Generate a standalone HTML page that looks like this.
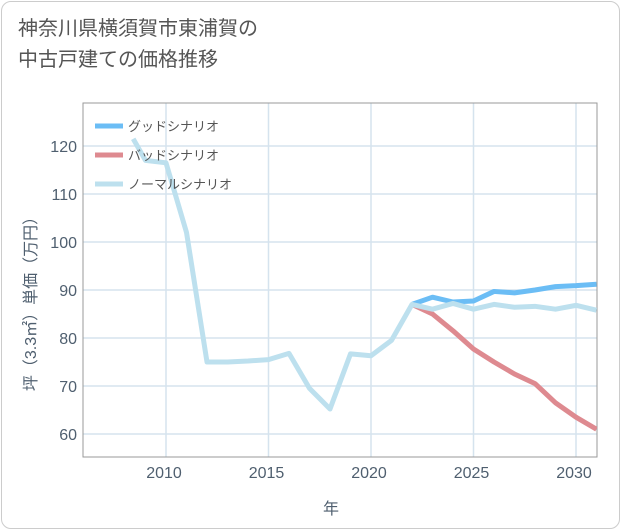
<!DOCTYPE html>
<html><head><meta charset="utf-8"><style>
body{margin:0;background:#fff;font-family:"Liberation Sans","Noto Sans CJK JP",sans-serif;}
#card{position:absolute;left:1px;top:1px;width:617px;height:526px;border:1px solid #ccc;border-radius:10px;background:#fff;}
#title{position:absolute;left:18px;top:14px;font-size:20px;line-height:31px;color:#555;}
</style></head><body>
<div id="card"></div>
<div id="title">神奈川県横須賀市東浦賀の<br>中古戸建ての価格推移</div>
<svg id="chart" width="621" height="530" style="position:absolute;left:0;top:0"></svg>
<script>
const normalYears=[2008.4,2009,2010,2011,2012,2013,2014,2015,2016,2017,2018,2019,2020,2021,2022,2023,2024,2025,2026,2027,2028,2029,2030,2031];
const normalVals=[121.5,117,116.5,102,75,75,75.2,75.5,76.8,69.5,65.2,76.7,76.3,79.5,87,86,87.2,86,87,86.4,86.6,86,86.8,85.8];
const goodYears=[2022,2023,2024,2025,2026,2027,2028,2029,2030,2031];
const goodVals=[87,88.5,87.5,87.7,89.7,89.4,90,90.7,90.9,91.2];
const badYears=[2022,2023,2024,2025,2026,2027,2028,2029,2030,2031];
const badVals=[87,85,81.5,77.7,75,72.5,70.5,66.5,63.5,61];
const xTicks=[2010,2015,2020,2025,2030];
const yTicks=[60,70,80,90,100,110,120];
const L=83,R=597,T=103,B=457;
const X=y=>371+(y-2020)*20.5;
const Y=v=>290-(v-90)*4.8;
const svg=document.getElementById('chart');
const NS='http://www.w3.org/2000/svg';
function mk(t,a){const e=document.createElementNS(NS,t);for(const k in a)e.setAttribute(k,a[k]);svg.appendChild(e);return e;}
const defs=mk('defs',{});const cp=document.createElementNS(NS,'clipPath');cp.setAttribute('id','c');const cr=document.createElementNS(NS,'rect');
cr.setAttribute('x',L);cr.setAttribute('y',T);cr.setAttribute('width',R-L);cr.setAttribute('height',B-T);cp.appendChild(cr);defs.appendChild(cp);
xTicks.forEach(t=>{const l=mk('line',{x1:X(t),x2:X(t),y1:T,y2:B,stroke:'#d5e3ee','stroke-width':1.5});

const tx=mk('text',{x:X(t)-2,y:478,'text-anchor':'middle','font-size':16,fill:'#4f5f6f'});tx.textContent=t;
});
yTicks.forEach(t=>{const l=mk('line',{x1:L,x2:R,y1:Y(t),y2:Y(t),stroke:'#d5e3ee','stroke-width':1.5});

const tx=mk('text',{x:77,y:Y(t)+6,'text-anchor':'end','font-size':16,fill:'#4f5f6f'});tx.textContent=t;
});
const fr=mk('rect',{x:L,y:T,width:R-L,height:B-T,fill:'none',stroke:'#999','stroke-width':1});

function line(xs,vs,col,name){const p=mk('polyline',{points:xs.map((x,i)=>X(x)+','+Y(vs[i])).join(' '),fill:'none',stroke:col,'stroke-width':5,'stroke-linejoin':'round','clip-path':'url(#c)'});
}
line(badYears,badVals,'#de8a90','bad-scenario-line');
line(goodYears,goodVals,'#6bbdf5','good-scenario-line');
line(normalYears,normalVals,'#bde0ee','normal-scenario-line');
[['グッドシナリオ','#6bbdf5',126],['バッドシナリオ','#de8a90',155],['ノーマルシナリオ','#bde0ee',184]].forEach(([n,c,y])=>{
const g=mk('line',{x1:95,x2:123,y1:y,y2:y,stroke:c,'stroke-width':5});
const t=mk('text',{x:128,y:y+5,'font-size':13,fill:'#555'});t.textContent=n;});
const xt=mk('text',{x:331,y:514,'text-anchor':'middle','font-size':16,fill:'#4f5f6f'});xt.textContent='年';

const yt=mk('text',{x:0,y:0,'text-anchor':'middle','font-size':16,fill:'#4f5f6f',transform:'translate(36,300) rotate(-90)'});yt.textContent='坪（3.3㎡）単価（万円）';

</script>
</body></html>
